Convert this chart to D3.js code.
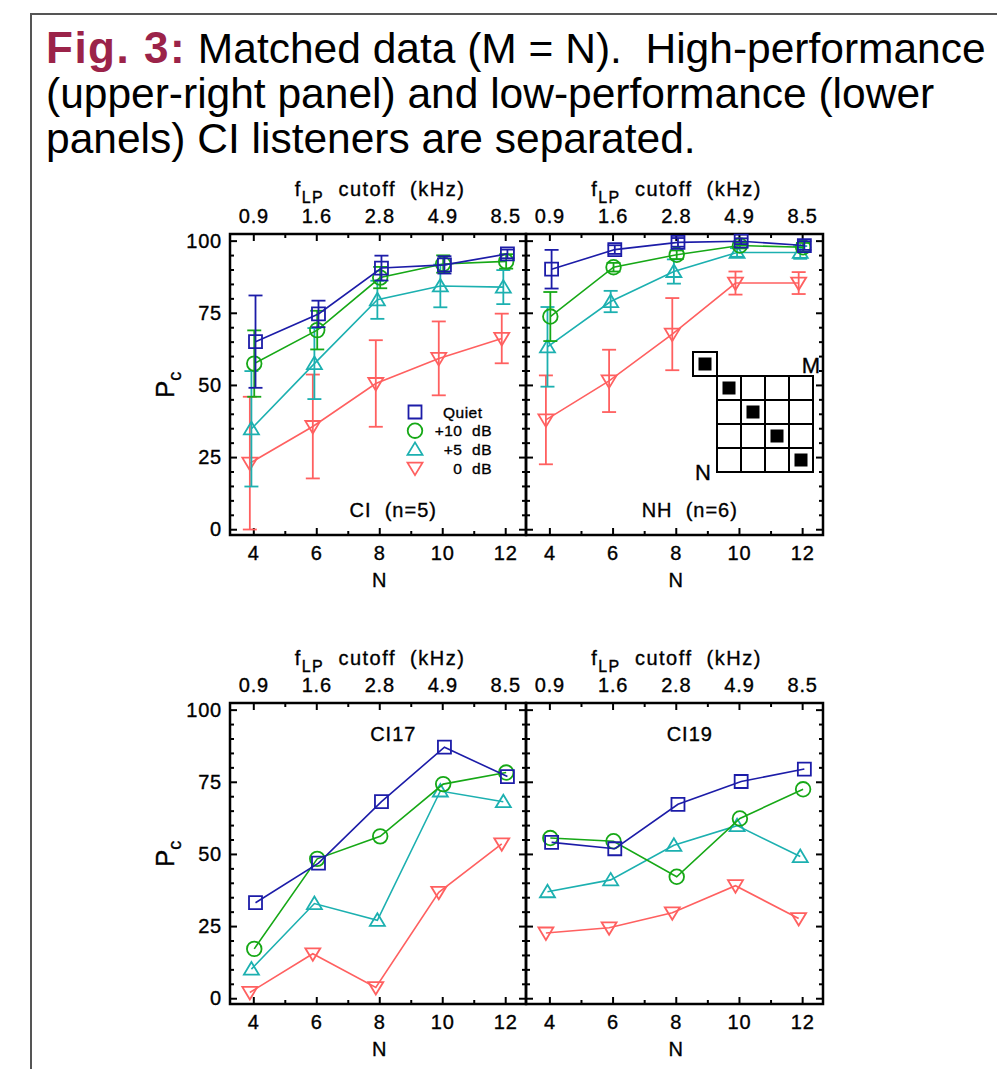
<!DOCTYPE html>
<html><head><meta charset="utf-8">
<script src="https://cdn.jsdelivr.net/npm/d3@7"></script>
<style>body{margin:0;background:#fff} svg{display:block} text{font-family:"Liberation Sans",Arial,Helvetica,sans-serif}
.lab{stroke:#000;stroke-width:0.35px}</style>
</head><body>
<script>
// ---------- data ----------
const nValues = [4, 6, 8, 10, 12];
const cutoffLabels = ["0.9", "1.6", "2.8", "4.9", "8.5"];
const conditions = ["Quiet", "+10 dB", "+5 dB", "0 dB"];
const yTicks = [0, 25, 50, 75, 100];

// CI group (n=5): means and error bars
const ciQuiet = [65, 74.6, 90.5, 91.6, 95.4];
const ciQuietErr = [16, 4.6, 4.3, 3, 1.5];
const ciPlus10 = [57.4, 69, 87.2, 91.9, 92.8];
const ciPlus10Err = [11.5, 6.7, 3.7, 3, 2.5];
const ciPlus5 = [34.8, 57.4, 79.5, 84.3, 83.9];
const ciPlus5Err = [20, 12.3, 6.6, 7.4, 5.9];
const ci0dB = [22.9, 35.6, 50.5, 59.2, 66.1];
const ci0dBErr = [23, 18, 15, 12.8, 8.6];

// NH group (n=6)
const nhQuiet = [90.1, 96.9, 99.4, 99.8, 98.3];
const nhQuietErr = [6.7, 1.5, 1.5, 1, 1.5];
const nhPlus10 = [73.7, 90.8, 95.1, 98.3, 97.7];
const nhPlus10Err = [8.5, 1.5, 1.5, 1, 1.5];
const nhPlus5 = [63.2, 78.9, 89.3, 95.9, 95.9];
const nhPlus5Err = [13.8, 3.7, 4.2, 1.5, 2.2];
const nh0dB = [37.9, 51.4, 67.6, 85.3, 85.3];
const nh0dBErr = [15.4, 10.8, 12.5, 4, 3.8];

// CI17 (individual)
const ci17Quiet = [33.1, 46.8, 68.1, 87, 76.8];
const ci17Plus10 = [17.1, 48.3, 56.1, 74.2, 78.2];
const ci17Plus5 = [10.1, 32.8, 27, 71.8, 68.1];
const ci170dB = [2, 15.4, 3.7, 36.7, 53.5];

// CI19 (individual)
const ci19Quiet = [54, 51.8, 67.2, 75.1, 79.4];
const ci19Plus10 = [55.5, 54.4, 42.1, 62.3, 72.4];
const ci19Plus5 = [36.9, 41, 53, 59.8, 49.1];
const ci190dB = [22.6, 24.4, 29.6, 39, 27.6];

// ---------- style ----------
const colors = ["#1c1ca8", "#16a816", "#1cb0b0", "#ff6060"];
const symbols = ["square", "circle", "triUp", "triDown"];
const jitter = [0.07, 0.03, -0.06, -0.11];

const W = 997, H = 1069;
const svg = d3.select("body").append("svg").attr("width", W).attr("height", H);

// outer frame
svg.append("path").attr("d", `M31,${H} V14 H${W}`).attr("fill", "none").attr("stroke", "#555").attr("stroke-width", 2);

// title
const title = svg.append("g").attr("font-size", 42.5);
const l1 = title.append("text").attr("x", 46).attr("y", 63);
l1.append("tspan").attr("fill", "#9b2349").attr("font-weight", "bold").attr("font-size", 44).attr("letter-spacing", 1.5).text("Fig. 3:");
l1.append("tspan").attr("fill", "#000").text(" Matched data (M = N).\u00a0 High-performance");
title.append("text").attr("x", 46).attr("y", 108).text("(upper-right panel) and low-performance (lower");
title.append("text").attr("x", 46).attr("y", 153).text("panels) CI listeners are separated.");

function styleLabels(sel, fs) {
  sel.selectAll("text").attr("font-size", fs).attr("font-family", "Liberation Sans, Arial, sans-serif")
    .attr("fill", "#000").attr("letter-spacing", 0.8).attr("class", "lab");
}

function panel(opts) {
  const {x0, x1, yTop, means, errs, label, labelY, showY, inset} = opts;
  const x = d3.scaleLinear().domain([3.26, 12.66]).range([x0, x1]);
  const y = d3.scaleLinear().domain([-2, 102.3]).range([yTop + 301, yTop]);
  const g = svg.append("g");
  const fb = y(-2), ft = y(102.3);

  // inward ticks on all sides
  const majX = nValues, minX = [5, 7, 9, 11];
  const minY = d3.range(0, 101, 5).filter(v => v % 25 !== 0);
  function ticks(axisFn, scale, vals, len, transform) {
    const a = g.append("g").attr("transform", transform)
      .call(axisFn(scale).tickValues(vals).tickSize(-len).tickFormat(""));
    a.select(".domain").remove();
    a.selectAll("line").attr("stroke", "#000").attr("stroke-width", 2);
  }
  ticks(d3.axisBottom, x, majX, 7, `translate(0,${fb})`);
  ticks(d3.axisBottom, x, minX, 4, `translate(0,${fb})`);
  ticks(d3.axisTop, x, majX, 7, `translate(0,${ft})`);
  ticks(d3.axisTop, x, minX, 4, `translate(0,${ft})`);
  ticks(d3.axisLeft, y, yTicks, 7, `translate(${x0},0)`);
  ticks(d3.axisLeft, y, minY, 4, `translate(${x0},0)`);
  ticks(d3.axisRight, y, yTicks, 7, `translate(${x1},0)`);
  ticks(d3.axisRight, y, minY, 4, `translate(${x1},0)`);

  // frame
  g.append("rect").attr("x", x0).attr("y", ft).attr("width", x1 - x0).attr("height", fb - ft)
    .attr("fill", "none").attr("stroke", "#000").attr("stroke-width", 2.5);

  // bottom labels
  const bx = g.append("g").attr("transform", `translate(0,${fb})`)
    .call(d3.axisBottom(x).tickValues(nValues).tickSize(0).tickPadding(11).tickFormat(d3.format("d")));
  bx.select(".domain").remove();
  styleLabels(bx, 20);
  g.append("text").attr("class", "lab").attr("x", x(8)).attr("y", fb + 52).attr("text-anchor", "middle").attr("font-size", 20).text("N");

  // top labels
  const tx = g.append("g").attr("transform", `translate(0,${ft})`)
    .call(d3.axisTop(x).tickValues(nValues).tickSize(0).tickPadding(11).tickFormat((d, i) => cutoffLabels[i]));
  tx.select(".domain").remove();
  styleLabels(tx, 20);
  const tt = g.append("text").attr("class", "lab").attr("x", (x0 + x1) / 2 + 2).attr("y", ft - 38).attr("text-anchor", "middle")
    .attr("font-size", 20).attr("letter-spacing", 1.5);
  tt.append("tspan").text("f");
  tt.append("tspan").attr("font-size", 16).attr("dy", 7).text("LP");
  tt.append("tspan").attr("dy", -7).text("\u00a0 cutoff\u00a0 (kHz)");

  // left labels
  if (showY) {
    const ly = g.append("g").attr("transform", `translate(${x0},0)`)
      .call(d3.axisLeft(y).tickValues(yTicks).tickSize(0).tickPadding(8));
    ly.select(".domain").remove();
    styleLabels(ly, 20);
    const pc = g.append("text").attr("class", "lab").attr("transform", `translate(174,${y(50)}) rotate(-90)`)
      .attr("text-anchor", "middle").attr("font-size", 26);
    pc.append("tspan").text("P");
    pc.append("tspan").attr("font-size", 18).attr("dy", 7).text("c");
  }

  // inset matrix (M = N diagonal)
  if (inset) {
    const c = 24, gx = x0 + 191, gy = yTop + 142;
    const ig = g.append("g");
    ig.append("rect").attr("x", gx - c).attr("y", gy - c).attr("width", c).attr("height", c)
      .attr("fill", "#fff").attr("stroke", "#000").attr("stroke-width", 2);
    for (let r = 0; r < 4; r++) for (let k = 0; k < 4; k++)
      ig.append("rect").attr("x", gx + k * c).attr("y", gy + r * c).attr("width", c).attr("height", c)
        .attr("fill", "#fff").attr("stroke", "#000").attr("stroke-width", 2);
    for (let d = -1; d < 4; d++)
      ig.append("rect").attr("x", gx + d * c + 5.5).attr("y", gy + d * c + 5.5).attr("width", 13).attr("height", 13).attr("fill", "#000");
    ig.append("text").attr("class", "lab").attr("x", gx + 4 * c + 7).attr("y", gy - 3).attr("text-anchor", "end").attr("font-size", 22).text("M");
    ig.append("text").attr("class", "lab").attr("x", gx - 22).attr("y", gy + 4 * c + 8).attr("font-size", 22).text("N");
  }

  // series (draw 0 dB first)
  [3, 2, 1, 0].forEach(s => {
    const vals = means[s], col = colors[s];
    const pts = vals.map((v, i) => [x(nValues[i] + jitter[s]), y(v)]);
    g.append("path").attr("d", d3.line()(pts))
      .attr("fill", "none").attr("stroke", col).attr("stroke-width", 1.6);
    if (errs) {
      pts.forEach((p, i) => {
        const e = errs[s][i]; if (!e) return;
        const v = vals[i], yt = y(v + e), yb = y(v - e);
        const eg = g.append("g").attr("stroke", col).attr("stroke-width", 1.8);
        eg.append("line").attr("x1", p[0]).attr("x2", p[0]).attr("y1", yt).attr("y2", yb);
        eg.append("line").attr("x1", p[0] - 7).attr("x2", p[0] + 7).attr("y1", yt).attr("y2", yt);
        eg.append("line").attr("x1", p[0] - 7).attr("x2", p[0] + 7).attr("y1", yb).attr("y2", yb);
      });
    }
    pts.forEach(p => drawSym(g, symbols[s], p[0], p[1], col));
  });

  // legend
  if (opts.legend) {
    const lx = 415, ly0 = yTop + 178;
    conditions.forEach((c, i) => {
      const yy = ly0 + i * 18.7;
      drawSym(g, symbols[i], lx, yy, colors[i]);
      const t = g.append("text").attr("class", "lab").attr("y", yy + 5.5).attr("font-size", 15.5).attr("letter-spacing", 0.5);
      if (i === 0) t.attr("x", 443).text(c);
      else t.attr("x", 492).attr("text-anchor", "end").text(c.replace(" ", "\u00a0 "));
    });
  }

  g.append("text").attr("class", "lab").attr("x", x(8) + 14).attr("y", labelY).attr("text-anchor", "middle")
    .attr("font-size", 20).attr("letter-spacing", 1).text(label);
}

function drawSym(g, type, cx, cy, col) {
  const a = g.append("path").attr("fill", "none").attr("stroke", col).attr("stroke-width", 1.8);
  if (type === "square") a.attr("d", `M${cx - 6.5},${cy - 6.5}h13v13h-13z`);
  else if (type === "circle") a.attr("d", d3.arc()({innerRadius: 0, outerRadius: 7.3, startAngle: 0, endAngle: 2 * Math.PI})).attr("transform", `translate(${cx},${cy})`);
  else if (type === "triUp") a.attr("d", `M${cx},${cy - 7}L${cx + 7.5},${cy + 5.5}L${cx - 7.5},${cy + 5.5}Z`);
  else a.attr("d", `M${cx},${cy + 7}L${cx + 7.5},${cy - 5.5}L${cx - 7.5},${cy - 5.5}Z`);
}

panel({x0: 230, x1: 526, yTop: 234, means: [ciQuiet, ciPlus10, ciPlus5, ci0dB],
  errs: [ciQuietErr, ciPlus10Err, ciPlus5Err, ci0dBErr], label: "CI\u00a0 (n=5)", labelY: 517, showY: true, legend: true});
panel({x0: 526, x1: 823, yTop: 234, means: [nhQuiet, nhPlus10, nhPlus5, nh0dB],
  errs: [nhQuietErr, nhPlus10Err, nhPlus5Err, nh0dBErr], label: "NH\u00a0 (n=6)", labelY: 517, showY: false, inset: true});
panel({x0: 230, x1: 526, yTop: 703, means: [ci17Quiet, ci17Plus10, ci17Plus5, ci170dB],
  errs: null, label: "CI17", labelY: 741, showY: true});
panel({x0: 526, x1: 823, yTop: 703, means: [ci19Quiet, ci19Plus10, ci19Plus5, ci190dB],
  errs: null, label: "CI19", labelY: 741, showY: false});
</script>
</body></html>
